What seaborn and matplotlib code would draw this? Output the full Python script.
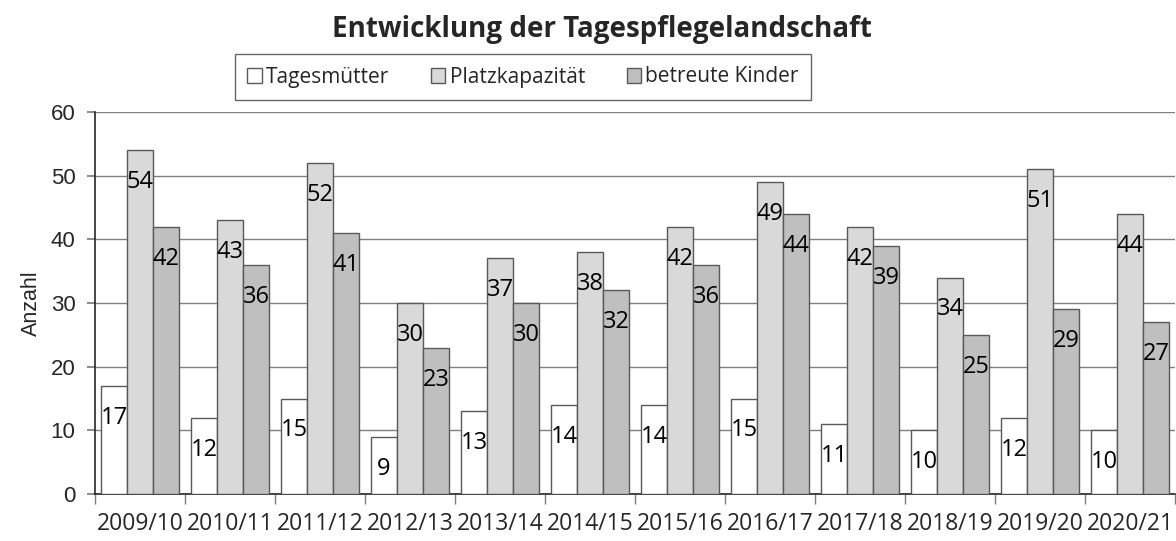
import pandas as pd
import matplotlib
matplotlib.use("Agg")
import matplotlib.pyplot as plt
import seaborn as sns
from matplotlib.patches import Patch
from matplotlib.ticker import FixedLocator

# DATA
jahre = ["2009/10", "2010/11", "2011/12", "2012/13", "2013/14", "2014/15",
         "2015/16", "2016/17", "2017/18", "2018/19", "2019/20", "2020/21"]
tagesmuetter = [17, 12, 15, 9, 13, 14, 14, 15, 11, 10, 12, 10]
platzkapazitaet = [54, 43, 52, 30, 37, 38, 42, 49, 42, 34, 51, 44]
betreute_kinder = [42, 36, 41, 23, 30, 32, 36, 44, 39, 25, 29, 27]
serien = ["Tagesmütter", "Platzkapazität", "betreute Kinder"]
farben = ["#ffffff", "#d9d9d9", "#bfbfbf"]

df = pd.DataFrame({
    "Jahr": jahre * 3,
    "Serie": [serien[0]] * 12 + [serien[1]] * 12 + [serien[2]] * 12,
    "Anzahl": tagesmuetter + platzkapazitaet + betreute_kinder,
})

sns.set_theme(style="white")
plt.rcParams["font.family"] = ["Open Sans", "DejaVu Sans"]

fig = plt.figure(figsize=(11.76, 5.41), dpi=100)
ax = fig.add_axes([95 / 1176, 1 - 494 / 541, 1080 / 1176, 382 / 541])

sns.barplot(data=df, x="Jahr", y="Anzahl", hue="Serie", order=jahre,
            hue_order=serien, palette=farben, width=0.867, gap=0,
            edgecolor="#595959", linewidth=1, ax=ax, legend=False, zorder=3)

# labels inside the bars, below the top
for cont in ax.containers:
    for bar in cont:
        h = bar.get_height()
        ax.annotate(f"{int(h)}", (bar.get_x() + bar.get_width() / 2, h),
                    xytext=(0, -23), textcoords="offset points",
                    ha="center", va="center", fontsize=17, color="black",
                    zorder=5)

ax.set_ylim(0, 60)
ax.set_xlim(-0.5, len(jahre) - 0.5)
ax.set_yticks(range(0, 61, 10))
ax.yaxis.grid(True, color="#7f7f7f", linewidth=1, zorder=0)
ax.set_axisbelow(True)
for s in ["top", "right"]:
    ax.spines[s].set_visible(False)
ax.spines["left"].set_color("#262626")
ax.spines["bottom"].set_color("#262626")
ax.spines["left"].set_linewidth(1.2)
ax.spines["bottom"].set_linewidth(1.2)

ax.tick_params(axis="y", which="major", left=True, length=6, color="#7f7f7f",
               labelsize=16, pad=8)
for t in ax.get_yticklabels():
    t.set_fontfamily("Liberation Sans")
ax.tick_params(axis="x", which="major", length=0, labelsize=16.5, pad=13)
ax.xaxis.set_minor_locator(FixedLocator([i - 0.5 for i in range(len(jahre) + 1)]))
ax.tick_params(axis="x", which="minor", bottom=True, length=7, color="#7f7f7f", width=1)

ax.set_xlabel("")
ax.set_ylabel("Anzahl", fontsize=15.5, fontfamily="Liberation Sans", labelpad=6)

fig.text(0.512, 1 - 30 / 541, "Entwicklung der Tagespflegelandschaft",
         ha="center", va="center", fontsize=20, fontweight="bold")

handles = [Patch(facecolor=f, edgecolor="#595959", linewidth=1) for f in farben]
leg = fig.legend(handles, serien, loc="center", bbox_to_anchor=(523 / 1176, 1 - 77 / 541),
                 ncol=3, fontsize=15, frameon=True, fancybox=False,
                 handlelength=0.7, handleheight=0.7, handletextpad=0.2,
                 columnspacing=2.0, borderpad=0.6, borderaxespad=0)
leg.get_frame().set_edgecolor("#404040")
leg.get_frame().set_linewidth(1)

fig.savefig("out.png", dpi=100, facecolor="white")
